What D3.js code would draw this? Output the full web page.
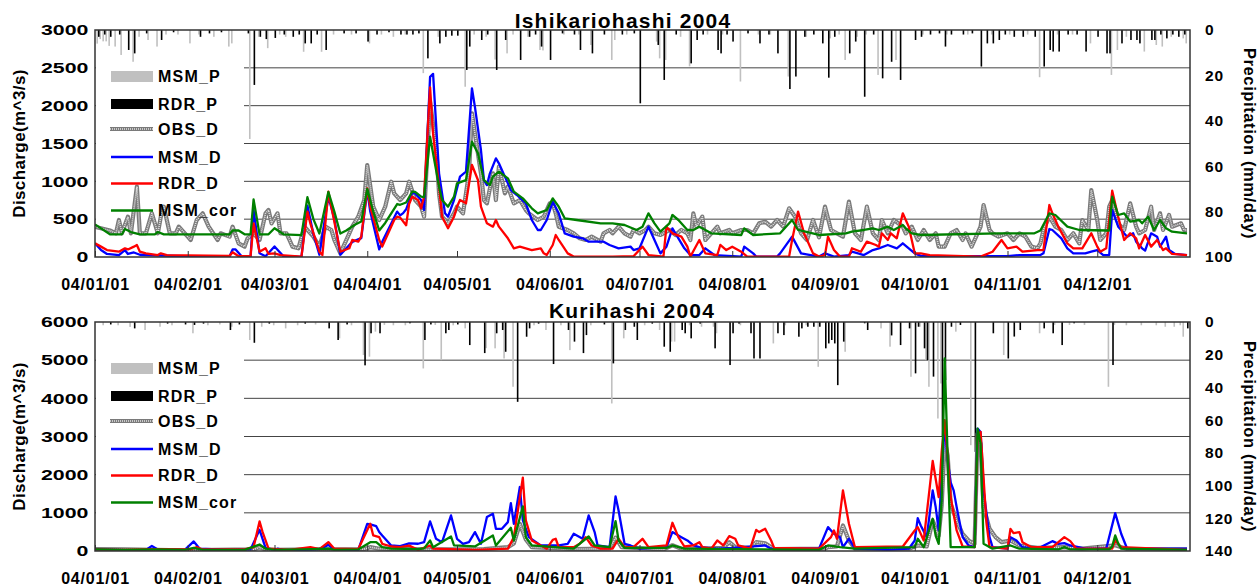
<!DOCTYPE html>
<html>
<head>
<meta charset="utf-8">
<script src="https://cdnjs.cloudflare.com/ajax/libs/d3/7.8.5/d3.min.js"></script>
<style>
  body { margin: 0; background: #fff; }
  svg { display: block; }
  text { font-family: "Liberation Sans", Arial, sans-serif; font-weight: bold; fill: #000; }
</style>
</head>
<body>
<svg id="chart" width="1260" height="587"></svg>
<script>

// x axis: day of year 2004 (0 = Jan 1)
var monthDays = [0, 31, 60, 91, 121, 152, 182, 213, 244, 274, 305, 335];
var monthLabels = ["04/01/01", "04/02/01", "04/03/01", "04/04/01", "04/05/01", "04/06/01",
                   "04/07/01", "04/08/01", "04/09/01", "04/10/01", "04/11/01", "04/12/01"];
var legendNames = ["MSM_P", "RDR_P", "OBS_D", "MSM_D", "RDR_D", "MSM_cor"];

var ishiQTicks = [0, 500, 1000, 1500, 2000, 2500, 3000];
var ishiPTicks = [0, 20, 40, 60, 80, 100];
var kuriQTicks = [0, 1000, 2000, 3000, 4000, 5000, 6000];
var kuriPTicks = [0, 20, 40, 60, 80, 100, 120, 140];

// ---- Ishikariohashi: [day, discharge m^3/s] ----
var ishiObs = [[0,400],[3,370],[5,350],[7,313],[8,489],[9,313],[11,533],[12,313],[14,930],[15,313],[17,313],[19,577],[21,313],[22,533],[23,665],[25,313],[27,313],[28,401],[31,269],[32,225],[34,489],[36,577],[38,401],[41,225],[42,313],[45,269],[46,401],[48,180],[50,137],[51,247],[53,313],[55,225],[57,577],[58,621],[59,445],[61,577],[62,313],[64,313],[65,225],[66,137],[68,115],[70,401],[72,313],[73,269],[75,137],[77,401],[79,357],[80,225],[82,48],[85,313],[86,401],[88,533],[90,753],[91,1216],[93,665],[95,489],[97,665],[99,995],[100,841],[102,753],[104,841],[105,995],[107,753],[109,665],[110,533],[111,1326],[112,2053],[114,1454],[115,837],[116,533],[118,445],[120,577],[121,665],[123,577],[125,1106],[126,1899],[127,1630],[129,1106],[130,753],[131,709],[133,1106],[134,753],[135,1194],[137,841],[138,930],[140,709],[142,753],[144,621],[145,577],[148,489],[150,533],[152,709],[153,709],[154,577],[155,401],[158,357],[160,313],[162,247],[164,225],[166,269],[169,203],[170,313],[172,357],[173,313],[175,401],[177,313],[179,269],[180,357],[182,313],[184,357],[185,401],[187,313],[189,291],[190,313],[192,357],[194,291],[196,357],[198,313],[199,225],[200,577],[201,401],[203,533],[204,225],[206,313],[208,401],[209,313],[212,357],[213,313],[216,357],[218,357],[220,313],[222,445],[224,467],[226,401],[228,489],[230,401],[232,643],[234,533],[236,313],[238,225],[240,489],[242,260],[244,665],[246,357],[248,313],[250,269],[252,731],[254,313],[256,225],[258,665],[260,313],[262,225],[263,489],[265,313],[267,489],[270,401],[271,313],[273,401],[275,225],[277,357],[279,225],[281,313],[282,137],[284,137],[286,313],[288,357],[290,225],[291,313],[293,137],[295,313],[296,401],[297,687],[299,357],[300,313],[302,269],[305,313],[307,225],[309,313],[311,269],[313,137],[315,115],[316,180],[317,357],[319,533],[321,401],[323,357],[325,225],[327,313],[329,180],[330,489],[332,357],[333,885],[335,489],[336,225],[338,313],[339,665],[340,753],[342,445],[344,357],[346,709],[348,401],[349,313],[351,357],[353,665],[354,357],[356,577],[357,357],[359,555],[360,401],[363,445],[364,357],[365,357]];
var ishiMsm = [[0,180],[2,92],[4,40],[8,26],[10,92],[11,40],[13,60],[15,30],[22,20],[30,10],[45,10],[46,100],[47,100],[49,10],[52,10],[53,620],[55,50],[57,10],[60,140],[63,10],[69,0],[71,680],[73,300],[75,30],[78,800],[80,500],[82,30],[86,200],[89,250],[91,880],[92,600],[95,100],[96,200],[101,600],[102,550],[103,580],[104,630],[106,850],[107,840],[109,753],[110,621],[112,2380],[113,2420],[115,1106],[117,577],[118,533],[120,753],[122,1062],[124,1128],[126,2229],[127,1980],[129,1414],[130,1017],[131,950],[132,1106],[134,1304],[135,1238],[137,1062],[139,885],[141,819],[144,709],[146,489],[148,357],[149,357],[151,489],[153,731],[155,577],[157,313],[160,269],[163,247],[165,203],[170,203],[172,159],[175,115],[179,137],[180,92],[182,115],[185,401],[187,225],[189,48],[191,137],[193,379],[194,313],[197,115],[199,26],[202,26],[204,115],[207,26],[216,5],[217,137],[220,48],[221,5],[228,5],[229,48],[233,269],[236,48],[242,5],[244,48],[247,5],[252,26],[253,70],[257,26],[260,92],[262,115],[265,159],[268,115],[270,181],[274,48],[276,15],[305,10],[309,26],[316,26],[317,48],[319,370],[320,357],[323,247],[325,115],[327,48],[331,48],[333,70],[335,92],[337,26],[339,26],[340,621],[342,401],[345,269],[347,313],[348,203],[350,115],[351,84],[353,313],[355,269],[356,137],[358,269],[359,92],[361,40],[365,26]];
var ishiRdr = [[0,180],[2,137],[4,92],[8,70],[10,115],[11,100],[13,137],[14,159],[15,70],[17,48],[21,26],[22,48],[24,26],[45,15],[46,62],[48,10],[52,10],[53,445],[55,70],[57,115],[58,40],[60,48],[62,26],[69,5],[71,600],[72,440],[75,70],[76,26],[78,863],[79,665],[82,70],[85,115],[86,225],[88,203],[89,269],[91,907],[92,665],[95,225],[96,137],[98,313],[100,489],[101,533],[102,520],[104,420],[105,700],[106,797],[108,753],[109,643],[110,797],[112,2242],[113,1630],[115,930],[116,533],[118,379],[120,533],[121,665],[122,753],[124,709],[126,1216],[128,1017],[129,665],[131,445],[133,401],[134,489],[135,401],[138,247],[140,115],[142,137],[146,92],[149,115],[150,48],[151,26],[153,159],[154,291],[155,225],[158,48],[160,5],[173,5],[180,10],[183,137],[185,26],[190,5],[191,401],[193,313],[196,269],[198,137],[199,5],[202,225],[204,48],[208,26],[209,159],[211,92],[213,137],[216,70],[218,5],[232,5],[233,225],[235,600],[237,313],[240,48],[242,5],[244,26],[245,269],[247,92],[249,5],[252,5],[253,115],[256,70],[258,203],[261,159],[262,137],[263,313],[265,225],[266,313],[268,247],[270,577],[272,401],[274,48],[276,48],[279,26],[296,5],[300,70],[303,225],[305,115],[308,137],[310,70],[315,92],[317,92],[319,687],[320,577],[322,401],[325,180],[327,115],[330,115],[333,313],[335,137],[336,70],[338,115],[340,877],[342,533],[344,225],[346,313],[348,247],[349,115],[351,291],[353,137],[355,225],[357,92],[358,115],[360,40],[365,26]];
var ishiCor = [[0,430],[5,300],[9,300],[10,370],[12,330],[15,300],[20,300],[21,330],[23,300],[45,300],[46,350],[48,350],[50,300],[52,300],[53,760],[55,300],[58,300],[60,380],[63,300],[69,290],[71,790],[73,500],[75,310],[78,860],[80,600],[82,310],[84,350],[87,430],[89,470],[91,900],[93,600],[95,350],[97,450],[101,700],[102,690],[104,720],[106,863],[107,860],[109,797],[110,790],[112,1590],[115,930],[116,753],[118,665],[120,797],[121,974],[124,1017],[126,1524],[128,1370],[130,1017],[132,951],[133,1062],[135,1128],[138,1040],[140,863],[143,775],[146,643],[148,577],[151,621],[153,775],[155,665],[157,511],[161,489],[169,445],[173,445],[177,423],[181,357],[183,401],[185,577],[187,445],[189,335],[192,445],[193,555],[195,489],[198,357],[200,357],[202,401],[206,313],[216,291],[217,379],[220,291],[229,313],[233,489],[235,357],[242,291],[251,313],[253,335],[257,357],[260,379],[262,357],[265,401],[267,357],[270,423],[271,379],[273,313],[276,291],[302,313],[314,313],[316,350],[319,577],[321,555],[325,401],[329,357],[339,350],[340,797],[342,555],[344,577],[346,467],[349,489],[350,445],[352,533],[354,357],[356,489],[358,379],[360,335],[365,313]];
// [day, mm/day]
var ishiRainMsm = [[1,6],[2,4],[3,5],[4,5],[5,7],[7,7.3],[9,11],[13,14],[15,3],[18,4.4],[21,7.3],[24,2],[28,2],[32,5.9],[35,2],[40,3],[45,7.3],[46,5.9],[52,48],[55,3],[58,8],[62,2],[64,3],[70,9.6],[76,9.6],[80,2],[86,2],[92,5.9],[96,2],[100,3],[104,2],[110,19],[115,3],[124,25],[127,2],[131,3],[134,13],[138,10.3],[140,2],[145,3],[149,8.8],[150,9],[157,2],[162,2],[166,6.6],[173,13.2],[174,4.4],[178,2],[188,5.1],[189,12.5],[191,13.2],[196,3],[199,16],[205,2],[210,2],[216,22.7],[222,2],[226,2],[232,20.5],[238,3],[246,3.7],[249,2],[251,13.2],[255,3],[258,2],[262,19.8],[268,13.2],[277,2],[285,2],[292,2],[300,2],[306,2],[312,2],[316,20.8],[322,2],[327,2],[333,5.9],[340,19.8],[342,8.8],[345,3],[351,9.5],[355,6.6],[357,7.3],[360,3],[364,3.7],[365,5.9]];
var ishiRainRdr = [[1,3],[3,2],[5,3],[8,2],[11,8.8],[13,10.3],[17,1.5],[22,4.4],[26,1],[35,3],[38,1.5],[42,1],[51,1.5],[53,24.2],[55,3],[57,4],[60,3.5],[63,2],[66,3],[68,2],[70,5.9],[72,5.9],[74,2],[77,8.8],[83,1.5],[87,1.5],[91,5.1],[94,2],[98,1],[102,2],[104,2],[106,2],[108,1.5],[111,12.5],[115,5.9],[117,3],[119,2.5],[121,2.5],[124,17.6],[125,7.3],[129,4.4],[131,2],[134,17.6],[137,4.4],[142,13.2],[145,3],[147,2],[149,7.3],[152,13.2],[156,1.5],[160,2],[162,8.8],[166,10.3],[170,2],[176,2],[180,1.5],[182,32.3],[188,6.6],[190,22],[194,2],[199,14.7],[201,4.4],[203,2],[208,8.8],[209,10.3],[211,2],[213,5.1],[218,1.5],[222,5.9],[225,2],[228,10.3],[232,26],[234,20.5],[237,3],[240,2],[243,5.9],[245,21],[247,3],[252,10.3],[254,5.1],[257,29.4],[260,2],[263,21.3],[266,14],[269,22],[274,4.4],[276,3],[279,2],[282,1.5],[284,7.3],[286,2],[290,2],[293,1.5],[296,16.1],[298,5.9],[300,5.9],[302,4.4],[304,2],[307,3],[310,3],[314,3],[317,16.1],[319,8.8],[320,9.5],[322,9.5],[325,2],[328,2],[331,9.5],[335,3],[338,10.3],[339,10.3],[343,5.9],[346,4.4],[348,4.4],[349,5.9],[353,4.4],[354,4.4],[356,2],[358,3.7],[360,2],[362,3],[364,2]];

// ---- Kurihashi ----
var kuriObs = [[0,50],[10,40],[20,30],[30,20],[40,30],[53,40],[55,100],[57,40],[60,30],[75,40],[90,50],[92,100],[95,60],[110,40],[130,50],[138,100],[140,200],[142,713],[144,300],[146,100],[160,50],[172,60],[174,350],[176,100],[190,40],[193,150],[196,60],[200,50],[210,80],[212,232],[214,100],[219,80],[221,232],[224,200],[227,50],[244,60],[245,100],[248,120],[250,669],[252,276],[254,60],[272,60],[275,145],[278,120],[280,800],[282,400],[283,1200],[284,2900],[285,2500],[286,1238],[288,800],[290,445],[292,276],[294,188],[295,3077],[296,2800],[297,1151],[299,582],[301,363],[303,232],[306,276],[309,145],[315,80],[324,100],[330,60],[341,150],[345,50],[365,40]];
var kuriMsm = [[0,50],[10,20],[17,30],[19,130],[21,40],[30,30],[33,250],[35,60],[45,30],[52,40],[55,555],[57,80],[60,30],[61,60],[63,20],[70,30],[75,50],[78,160],[80,40],[88,30],[91,713],[92,700],[94,650],[95,500],[96,407],[99,145],[102,130],[105,200],[108,190],[110,232],[112,775],[114,320],[116,232],[119,932],[121,320],[123,188],[125,232],[127,495],[129,188],[131,888],[133,976],[134,582],[136,582],[138,757],[139,1256],[140,713],[142,1676],[143,801],[145,363],[149,145],[155,145],[158,188],[160,451],[163,320],[165,932],[167,495],[168,145],[172,100],[174,1431],[175,1063],[177,188],[179,145],[182,60],[191,100],[193,495],[196,363],[198,276],[200,145],[202,100],[208,60],[213,80],[224,145],[226,60],[242,60],[245,626],[247,451],[249,363],[250,100],[252,320],[254,60],[265,30],[272,60],[274,276],[275,862],[276,669],[278,363],[280,1589],[281,1151],[282,538],[283,2000],[284,3300],[285,2400],[286,1800],[287,1589],[288,1151],[290,363],[292,145],[294,100],[295,3207],[296,3120],[297,1589],[299,363],[300,100],[305,60],[306,363],[308,276],[310,100],[315,60],[320,258],[322,188],[324,206],[326,145],[331,60],[338,60],[341,993],[343,451],[345,60],[365,60]];
var kuriRdr = [[0,40],[10,30],[20,50],[32,40],[34,100],[36,40],[50,40],[53,100],[55,775],[56,500],[58,60],[65,30],[72,100],[75,50],[78,232],[80,60],[88,50],[92,713],[93,407],[95,363],[96,188],[99,118],[102,100],[105,140],[108,30],[112,145],[113,60],[127,30],[138,60],[140,363],[143,1922],[144,801],[146,276],[151,60],[153,293],[154,320],[155,100],[160,100],[162,188],[164,363],[166,145],[169,60],[173,60],[175,320],[177,100],[180,100],[183,320],[185,100],[191,145],[193,740],[195,363],[197,118],[200,145],[202,232],[203,100],[206,60],[208,276],[210,145],[212,389],[214,320],[215,145],[219,60],[221,555],[222,495],[224,582],[226,276],[227,80],[242,60],[246,363],[247,538],[248,320],[250,1589],[252,713],[254,100],[270,118],[274,538],[275,626],[277,276],[280,2359],[282,1414],[283,2600],[284,3427],[285,2500],[286,1414],[288,538],[290,118],[294,100],[295,3030],[296,3120],[298,713],[299,100],[305,60],[306,582],[307,470],[309,495],[310,232],[313,100],[320,100],[324,363],[326,258],[328,60],[340,60],[341,276],[343,100],[365,30]];
var kuriCor = [[0,40],[10,30],[20,40],[30,30],[33,80],[36,30],[50,30],[55,170],[57,60],[60,30],[70,40],[78,60],[80,30],[88,40],[92,232],[94,232],[96,100],[99,60],[108,50],[110,70],[112,276],[113,100],[119,380],[120,145],[127,120],[133,407],[134,145],[139,608],[140,276],[143,1169],[144,363],[146,145],[160,60],[165,380],[167,145],[172,100],[174,783],[175,276],[177,80],[191,80],[193,145],[197,60],[242,30],[245,145],[249,100],[254,60],[274,100],[275,320],[277,100],[280,845],[281,400],[282,188],[283,1326],[284,5046],[285,2464],[286,100],[294,100],[295,3207],[296,2814],[297,188],[300,60],[306,145],[309,60],[322,40],[324,100],[326,40],[339,40],[340,120],[341,407],[342,200],[343,60],[365,30]];
var kuriRainMsm = [[3,2],[8,2],[12,3],[17,4.9],[22,2.9],[26,2],[33,6.9],[38,2],[42,1.5],[46,2.9],[52,11],[56,2.9],[60,2],[64,3.9],[68,2],[74,1.5],[82,10],[86,2],[90,20.2],[92,21.2],[94,5.9],[97,1.8],[100,2],[104,2],[110,28.4],[114,1.8],[116,23.3],[120,2],[124,3.9],[131,16],[134,16.1],[137,22.3],[140,39.6],[147,2],[151,4.9],[156,2],[159,17.2],[166,2],[173,49.8],[177,10],[184,2],[189,4.9],[193,12],[194,12],[199,2],[203,2.9],[207,2.9],[208,6.9],[216,2],[227,13.1],[231,2],[238,2],[242,27.4],[251,18.2],[263,3.9],[266,15.1],[273,33.5],[276,2.9],[278,23.3],[279,39.6],[282,59],[283,37.6],[288,5.9],[293,75.3],[304,20.2],[316,6.9],[321,1.8],[326,1.8],[331,1.8],[339,39.6],[341,1.8],[345,2],[350,2],[355,2],[358,2.9],[361,2.9],[363,2],[364,9]];
var kuriRainRdr = [[5,1.5],[13,3.9],[24,1],[30,1.5],[33,1.8],[36,1],[45,4.9],[48,1.5],[53,12.7],[58,1],[70,1],[78,3.9],[81,11],[84,1.5],[90,26.5],[92,6.9],[95,6.9],[105,0.8],[110,11],[112,1.5],[117,6.9],[118,4.9],[121,1.5],[125,14.1],[130,19],[134,6.9],[136,4.9],[137,18.2],[141,48.8],[144,9],[145,3.9],[148,1],[153,25.7],[158,4.9],[160,12],[163,19],[164,8],[170,1.5],[173,25.3],[177,4.9],[180,2.9],[181,11],[186,1],[190,15.1],[192,18.2],[196,4.9],[197,6.9],[199,10],[202,1],[207,16.1],[212,26.3],[213,6.9],[215,1],[219,6.9],[220,22.3],[222,22.3],[228,6.9],[230,8],[235,9],[236,3.9],[238,2.9],[240,2.9],[242,2.9],[244,16.1],[245,13.1],[246,11],[247,13.1],[248,38.6],[250,12],[257,0.8],[258,4.9],[266,8.2],[269,14.1],[272,3.9],[274,31.4],[275,2.9],[277,16.1],[278,23.3],[280,33.4],[283,70.2],[284,35.5],[286,2.9],[289,1.8],[294,79.4],[300,6.9],[305,22.3],[307,8.9],[309,4.9],[317,3.9],[320,6.9],[323,14.1],[327,0.8],[340,26.3],[365,3.9]];

var LEFT = 95, RIGHT = 1190;
var svg = d3.select("#chart");
var x = d3.scaleLinear().domain([0, 366]).range([LEFT, RIGHT]);

function drawObs(sel, d) {
  // observed discharge: grey line with a dotted core
  sel.append("path").attr("d", d).attr("stroke", "#7a7a7a").attr("stroke-width", 4.2);
  sel.append("path").attr("d", d).attr("stroke", "#e4e4e4").attr("stroke-width", 1.6)
    .attr("stroke-dasharray", "1,1");
}

function drawPanel(p, idx) {
  /* draws one station panel
   *
   * p : panel settings (position, ticks, series)
   */
  var g = svg.append("g");
  var yQ = d3.scaleLinear().domain([0, d3.max(p.qTicks)]).range([p.bottom, p.top]);
  var yP = d3.scaleLinear().domain([0, d3.max(p.pTicks)]).range([p.top, p.bottom]);

  g.append("clipPath").attr("id", "clip" + idx).append("rect")
    .attr("x", LEFT).attr("y", p.top).attr("width", RIGHT - LEFT).attr("height", p.bottom - p.top);

  // gridlines
  g.append("g").selectAll("line").data(p.qTicks.slice(1, -1)).join("line")
    .attr("x1", LEFT).attr("x2", RIGHT)
    .attr("y1", function(d) { return yQ(d); }).attr("y2", function(d) { return yQ(d); })
    .attr("stroke", "#444").attr("stroke-width", 1);

  // legend box covers the grid
  g.append("rect").attr("x", LEFT + 1).attr("y", p.top + 26)
    .attr("width", 148).attr("height", 174).attr("fill", "#fff");

  // precipitation hanging from the top
  g.append("g").selectAll("rect").data(p.rainMsm).join("rect")
    .attr("x", function(d) { return x(d[0]) - 1.6; }).attr("width", 1.6)
    .attr("y", p.top).attr("height", function(d) { return yP(d[1]) - p.top; })
    .attr("fill", "#c0c0c0");
  g.append("g").selectAll("rect").data(p.rainRdr).join("rect")
    .attr("x", function(d) { return x(d[0]); }).attr("width", 1.6)
    .attr("y", p.top).attr("height", function(d) { return yP(d[1]) - p.top; })
    .attr("fill", "#000");

  var line = d3.line()
    .x(function(d) { return x(d[0]); })
    .y(function(d) { return yQ(d[1]); });

  var lines = g.append("g").attr("clip-path", "url(#clip" + idx + ")")
    .attr("fill", "none").attr("stroke-linejoin", "round");
  drawObs(lines, line(p.obs));
  lines.append("path").attr("d", line(p.msm)).attr("stroke", "#0000ff").attr("stroke-width", 2.3);
  lines.append("path").attr("d", line(p.rdr)).attr("stroke", "#ff0000").attr("stroke-width", 2.3);
  lines.append("path").attr("d", line(p.cor)).attr("stroke", "#008000").attr("stroke-width", 2.3);

  // frame
  g.append("rect").attr("x", LEFT).attr("y", p.top).attr("width", RIGHT - LEFT)
    .attr("height", p.bottom - p.top).attr("fill", "none").attr("stroke", "#333").attr("stroke-width", 1.5);

  // axes
  var ax = g.append("g").attr("transform", "translate(0," + p.bottom + ")")
    .call(d3.axisBottom(x).tickValues(monthDays)
      .tickFormat(function(d, i) { return monthLabels[i]; })
      .tickSize(-6).tickPadding(22));
  ax.select(".domain").remove();
  ax.selectAll("line").attr("stroke", "#333");
  ax.selectAll("text").style("font-size", "16px").style("letter-spacing", "0.8px");

  // discharge labels are drawn wide, as in the source
  var ay = g.append("g").attr("transform", "translate(" + LEFT + ",0)")
    .call(d3.axisLeft(yQ).tickValues(p.qTicks).tickFormat(d3.format("d")).tickSize(0));
  ay.select(".domain").remove();
  ay.selectAll("text").style("font-size", "15px")
    .attr("x", -6.7 / 1.42).attr("transform", "scale(1.42,1)");

  var ar = g.append("g").attr("transform", "translate(" + RIGHT + ",0)")
    .call(d3.axisRight(yP).tickValues(p.pTicks).tickSize(0).tickPadding(15));
  ar.select(".domain").remove();
  ar.selectAll("text").style("font-size", "15.5px").style("letter-spacing", "0.8px");

  g.selectAll(".tick text").attr("fill", "#000").attr("font-family", null);

  var mid = (p.top + p.bottom) / 2;
  g.append("text").attr("transform", "translate(25," + mid + ") rotate(-90)")
    .attr("text-anchor", "middle").style("font-size", "17px").style("letter-spacing", "0.4px")
    .text("Discharge(m^3/s)");
  g.append("text").attr("transform", "translate(1244," + mid + ") rotate(90)")
    .attr("text-anchor", "middle").style("font-size", "16.5px").style("letter-spacing", "0.6px")
    .text("Precipitation (mm/day)");
  g.append("text").attr("x", p.titleX).attr("y", p.titleY).attr("text-anchor", "middle")
    .style("font-size", "21px").style("letter-spacing", "1.2px").text(p.title);

  // legend
  var rows = [46.5, 74, 99, 127, 153.5, 180.5];
  var lg = g.append("g").attr("transform", "translate(0," + p.top + ")");
  lg.append("rect").attr("x", 111).attr("y", rows[0] - 5.5).attr("width", 42).attr("height", 11).attr("fill", "#c0c0c0");
  lg.append("rect").attr("x", 111).attr("y", rows[1] - 5).attr("width", 42).attr("height", 10).attr("fill", "#000");
  drawObs(lg.append("g"), "M110," + rows[2] + "H153");
  var lc = ["#0000ff", "#ff0000", "#008000"];
  lc.forEach(function(c, i) {
    lg.append("line").attr("x1", 111).attr("x2", 153).attr("y1", rows[i + 3]).attr("y2", rows[i + 3])
      .attr("stroke", c).attr("stroke-width", 2.3);
  });
  lg.selectAll("text.lgt").data(legendNames).join("text").attr("class", "lgt")
    .attr("x", 158).attr("y", function(d, i) { return rows[i] + 5.5; })
    .style("font-size", "16px").style("letter-spacing", "1.2px")
    .text(function(d) { return d; });
}

var panels = [
  { top: 30, bottom: 257, title: "Ishikariohashi 2004", titleX: 623, titleY: 28,
    qTicks: ishiQTicks, pTicks: ishiPTicks, obs: ishiObs, msm: ishiMsm, rdr: ishiRdr, cor: ishiCor,
    rainMsm: ishiRainMsm, rainRdr: ishiRainRdr },
  { top: 322, bottom: 551, title: "Kurihashi 2004", titleX: 632, titleY: 318,
    qTicks: kuriQTicks, pTicks: kuriPTicks, obs: kuriObs, msm: kuriMsm, rdr: kuriRdr, cor: kuriCor,
    rainMsm: kuriRainMsm, rainRdr: kuriRainRdr }
];
panels.forEach(drawPanel);

</script>
</body>
</html>
